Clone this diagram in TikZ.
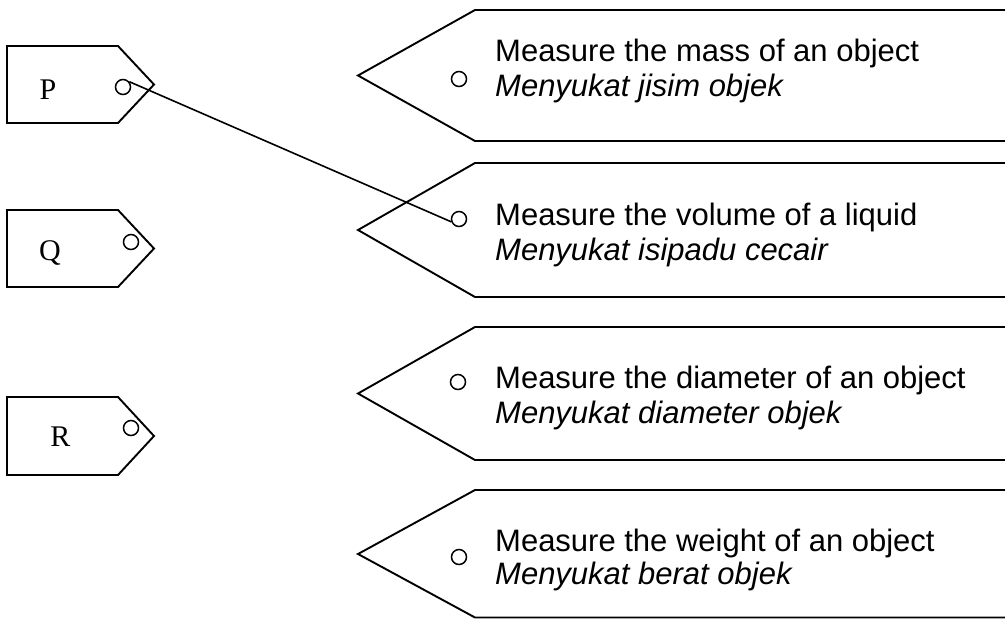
\documentclass[tikz,border=0pt]{standalone}
\usepackage{fontspec}
\setmainfont{Liberation Serif}
\newfontfamily\arialfont{Liberation Sans}
\begin{document}
\begin{tikzpicture}[x=1pt,y=-1pt,
  outline/.style={draw=black,line width=1.9pt,line join=miter},
  hole/.style={circle,draw=black,line width=1.5pt,minimum size=15pt,inner sep=0pt},
  taglabel/.style={inner sep=0pt,anchor=base,font=\fontsize{30}{34}\selectfont},
  eng/.style={inner sep=0pt,anchor=base west,font=\arialfont\fontsize{31}{35}\selectfont},
  mal/.style={inner sep=0pt,anchor=base west,font=\arialfont\itshape\fontsize{31}{35}\selectfont},
  link/.style={draw=black,line width=1.6pt}]
\useasboundingbox (0,0) rectangle (1005,619);
% left tags
\draw[outline] (7,46) -- (118,46) -- (154,84.5) -- (118,123) -- (7,123) -- cycle;
\draw[outline] (7,210) -- (118,210) -- (154,248.5) -- (118,287) -- (7,287) -- cycle;
\draw[outline] (7,397) -- (118,397) -- (154,436) -- (118,475) -- (7,475) -- cycle;
\node[taglabel] (P) at (48,99) {P};
\node[taglabel] (Q) at (50,260) {Q};
\node[taglabel] (R) at (60.5,446) {R};
\node[hole] (pc) at (123,87) {};
\node[hole] (qc) at (131,242) {};
\node[hole] (rc) at (131,428) {};
% right labels
\draw[outline] (1005,10) -- (475,10) -- (358,75.5) -- (475,141) -- (1005,141);
\draw[outline] (1005,163) -- (475,163) -- (358,230) -- (475,297) -- (1005,297);
\draw[outline] (1005,327) -- (475,327) -- (358,393.5) -- (475,460) -- (1005,460);
\draw[outline] (1005,490) -- (475,490) -- (358,554) -- (475,617.5) -- (1005,617.5);
\node[hole] (c1) at (459,79) {};
\node[hole] (c2) at (459,219) {};
\node[hole] (c3) at (458,382) {};
\node[hole] (c4) at (459,557) {};
\node[eng] (e1) at (495,61) {Measure the mass of an object};
\node[mal] (m1) at (495,96) {Menyukat jisim objek};
\node[eng] (e2) at (495,225) {Measure the volume of a liquid};
\node[mal] (m2) at (495,260) {Menyukat isipadu cecair};
\node[eng] (e3) at (495,388) {Measure the diameter of an object};
\node[mal] (m3) at (495,423) {Menyukat diameter objek};
\node[eng] (e4) at (495,551) {Measure the weight of an object};
\node[mal] (m4) at (495,584) {Menyukat berat objek};
% connector
\draw[link] (pc.40) -- (c2.200);
\end{tikzpicture}
\end{document}
